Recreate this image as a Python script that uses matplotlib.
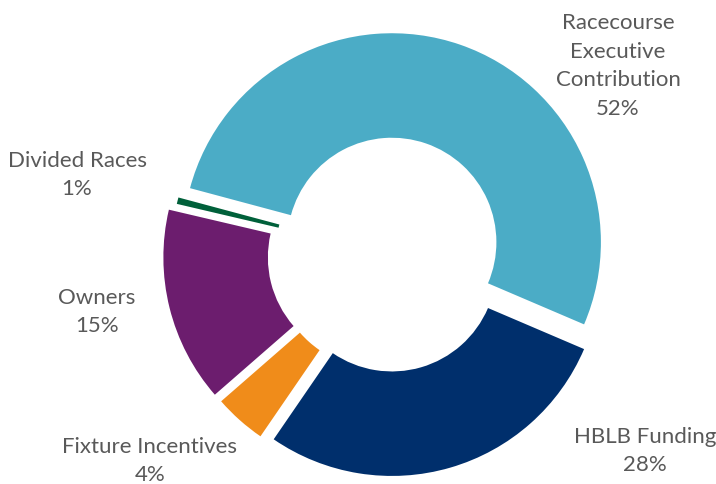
import matplotlib
matplotlib.use("Agg")
import matplotlib.pyplot as plt

labels = ["Racecourse\nExecutive\nContribution", "HBLB Funding", "Fixture Incentives",
          "Owners", "Divided Races"]
pct_text = ["52%", "28%", "4%", "15%", "1%"]
# slice sizes (divided races is a thin sliver, rounds to 1%)
shares = [52, 28, 4, 15, 0.5]
colors = ["#4BACC6", "#002F6C", "#F08C1A", "#6C1D6E", "#00603A"]
explode = [0.057, 0.067, 0.067, 0.077, 0.038]

# label block centres, in pixels of the 716x485 canvas
label_px = [(618, 66), (645, 451), (150, 461), (97, 312), (77, 175)]

W, H = 716, 485
R_PX = 209
CX, CY = 388, 254.5

plt.rcParams["font.family"] = ["Lato", "DejaVu Sans"]

fig = plt.figure(figsize=(W / 100, H / 100), dpi=100)
ax = fig.add_axes([0, 0, 1, 1])
ax.pie(shares, colors=colors, explode=explode, startangle=165, counterclock=False,
       radius=1.0, normalize=True, wedgeprops=dict(width=0.5, linewidth=0))
ax.set_xlim(-CX / R_PX, (W - CX) / R_PX)
ax.set_ylim(-(H - CY) / R_PX, CY / R_PX)
ax.set_aspect("equal")
ax.axis("off")

for lab, p, (px, py) in zip(labels, pct_text, label_px):
    fig.text(px / W, 1 - py / H, f"{lab}\n{p}", ha="center", va="center",
             fontsize=16, color="#595959", linespacing=1.53)

fig.savefig("out.png", dpi=100, facecolor="white")
